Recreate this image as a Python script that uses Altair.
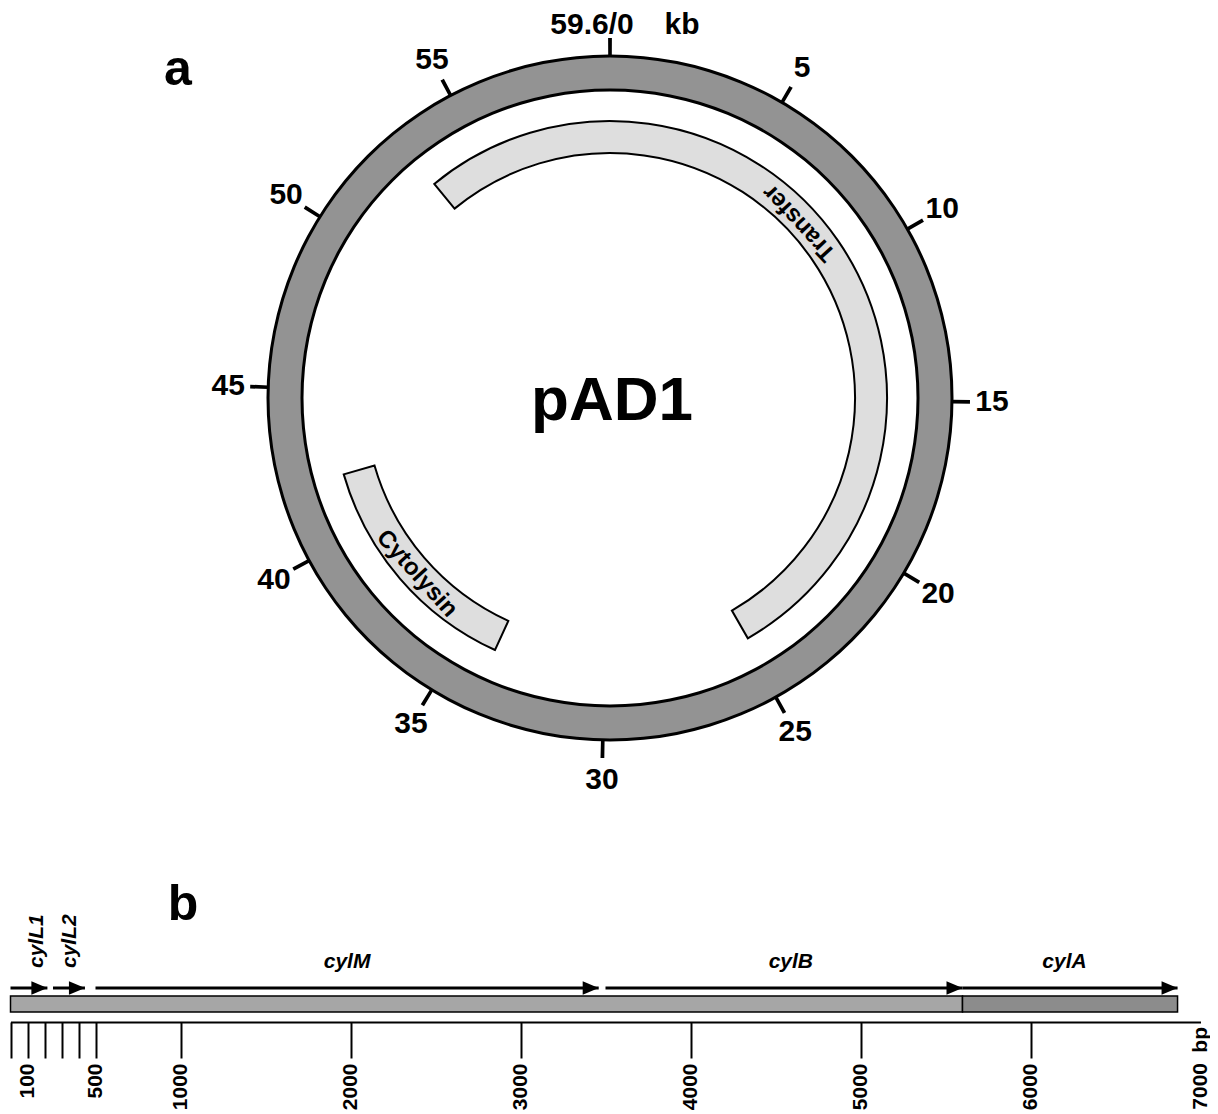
import math
import altair as alt
import pandas as pd

# ---------------- data ----------------
TOTAL_KB = 59.6
tick_kb = [0, 5, 10, 15, 20, 25, 30, 35, 40, 45, 50, 55]
tick_text = ["", "5", "10", "15", "20", "25", "30", "35", "40", "45", "50", "55"]
top_label = "59.6/0"
unit_label = "kb"

region_names = ["Transfer", "Cytolysin"]
region_start_kb = [53.08, 33.86]
region_end_kb = [24.86, 42.05]
region_label_kb = [7.82, 37.7]

plasmid_name = "pAD1"

genes = ["cylL1", "cylL2", "cylM", "cylB", "cylA"]
gene_start_bp = [0, 250, 500, 3500, 5600]
gene_end_bp = [217, 438, 3460, 5600, 6865]
gene_label_bp = [156, 350, 1980, 4590, 6200]

segment_names = ["hatched", "stippled"]
segment_start_bp = [0, 5600]
segment_end_bp = [5600, 6865]

axis_tick_bp = [0, 100, 200, 300, 400, 500, 1000, 2000, 3000, 4000, 5000, 6000]
axis_label_bp = [100, 500, 1000, 2000, 3000, 4000, 5000, 6000]
axis_end_bp = 7000
axis_unit = "bp"

# ---------------- layout / style ----------------
W, H = 1202, 1014
CX, CY = 602, 390
FONT = "Liberation Sans"
RING_FILL = "#939393"
REGION_FILL = "#dedede"

theta_scale = alt.Scale(domain=[0, TOTAL_KB], range=[0, 2 * math.pi])
x_scale = alt.Scale(domain=[0, axis_end_bp], range=[2.5, 1192.5])

label_list = ",".join(str(v) for v in axis_label_bp)
x_axis = alt.Axis(
    values=axis_tick_bp, format="d",
    labelExpr=f"indexof([{label_list}], datum.value) >= 0 ? datum.label : ''",
    labelAngle=270, labelFont=FONT, labelFontSize=21, labelFontWeight="bold",
    labelColor="black", labelPadding=5, labelFlush=False, labelOverlap=False,
    tickSize=36, tickWidth=2, tickColor="black", domainColor="black", domainWidth=2,
    grid=False, title="", orient="bottom")


def th(field):
    return alt.Theta(field, type="quantitative", scale=theta_scale, stack=None)


def xq(field):
    return alt.X(field, type="quantitative", scale=x_scale, axis=x_axis)


center = dict(x=alt.value(CX), y=alt.value(CY))

ring_df = pd.DataFrame({"start": [0.0], "end": [TOTAL_KB]})
ticks_df = pd.DataFrame({"kb": tick_kb, "label": tick_text})
regions_df = pd.DataFrame({"name": region_names, "start": region_start_kb,
                           "end": region_end_kb, "label_kb": region_label_kb})
genes_df = pd.DataFrame({"gene": genes, "start": gene_start_bp,
                         "end": gene_end_bp, "label_bp": gene_label_bp})
seg_df = pd.DataFrame({"segment": segment_names, "start": segment_start_bp,
                       "end": segment_end_bp})
end_df = pd.DataFrame({"bp": [axis_end_bp], "label": [str(axis_end_bp)], "unit": [axis_unit]})

# ---------------- panel a: plasmid ----------------
ring = alt.Chart(ring_df).mark_arc(radius=342, radius2=308, fill=RING_FILL).encode(
    theta=th("start"), theta2="end", **center)
ring_out = alt.Chart(ring_df).mark_arc(radius=343.5, radius2=340.5, fill="black").encode(
    theta=th("start"), theta2="end", **center)
ring_in = alt.Chart(ring_df).mark_arc(radius=309.5, radius2=306.5, fill="black").encode(
    theta=th("start"), theta2="end", **center)

ticks = alt.Chart(ticks_df).transform_calculate(
    a="datum.kb - 0.05", b="datum.kb + 0.05"
).mark_arc(radius=360, radius2=342, fill="black").encode(
    theta=th("a"), theta2="b", **center)

tick_labels = alt.Chart(ticks_df).transform_filter("datum.kb > 0").mark_text(
    radius=382, font=FONT, fontSize=30, fontWeight="bold", color="black",
    align="center", baseline="middle"
).encode(theta=th("kb"), text="label:N", **center)

top_df = pd.DataFrame({"kb": [0.0], "label": [top_label], "unit": [unit_label]})
top_text = alt.Chart(top_df).mark_text(
    radius=381, dx=-18, dy=8, font=FONT, fontSize=30, fontWeight="bold", color="black",
    align="center", baseline="middle"
).encode(theta=th("kb"), text="label:N", **center)
unit_text = alt.Chart(top_df).mark_text(
    radius=381, dx=72, dy=8, font=FONT, fontSize=30, fontWeight="bold", color="black",
    align="center", baseline="middle"
).encode(theta=th("kb"), text="unit:N", **center)

regions = alt.Chart(regions_df).transform_calculate(
    e=f"datum.end < datum.start ? datum.end + {TOTAL_KB} : datum.end"
).mark_arc(radius=277, radius2=245, fill=REGION_FILL, stroke="black", strokeWidth=2).encode(
    theta=th("start"), theta2="e", **center)

transfer_text = alt.Chart(regions_df).transform_filter("datum.name == 'Transfer'").mark_text(
    radius=258, angle=227, font=FONT, fontSize=24, fontWeight="bold", color="black",
    align="center", baseline="middle"
).encode(theta=th("label_kb"), text="name:N", **center)
cyto_text = alt.Chart(regions_df).transform_filter("datum.name == 'Cytolysin'").mark_text(
    radius=261, angle=48, font=FONT, fontSize=24, fontWeight="bold", color="black",
    align="center", baseline="middle"
).encode(theta=th("label_kb"), text="name:N", **center)

name_df = pd.DataFrame({"t": [plasmid_name]})
name_text = alt.Chart(name_df).mark_text(
    font=FONT, fontSize=62, fontWeight="bold", color="black", align="center",
    baseline="alphabetic"
).encode(text="t:N", x=alt.value(604), y=alt.value(412))

panel_df = pd.DataFrame({"t": ["a", "b"]})
panel_a = alt.Chart(panel_df).transform_filter("datum.t == 'a'").mark_text(
    font=FONT, fontSize=50, fontWeight="bold", color="black", align="center",
    baseline="alphabetic").encode(text="t:N", x=alt.value(170), y=alt.value(77))
panel_b = alt.Chart(panel_df).transform_filter("datum.t == 'b'").mark_text(
    font=FONT, fontSize=50, fontWeight="bold", color="black", align="center",
    baseline="alphabetic").encode(text="t:N", x=alt.value(175), y=alt.value(912))

# ---------------- panel b: linear map ----------------
bar = alt.Chart(seg_df).mark_rect(stroke="black", strokeWidth=1.5).encode(
    x=xq("start"), x2="end",
    y=alt.value(988), y2=alt.value(1004),
    color=alt.Color("segment:N", scale=alt.Scale(domain=segment_names,
                                                 range=["#a6a6a6", "#8c8c8c"]), legend=None))

shafts = alt.Chart(genes_df).mark_rule(color="black", strokeWidth=3).encode(
    x=xq("start"), x2="end", y=alt.value(980))

heads = alt.Chart(genes_df).mark_point(
    shape="M-1,-0.85L1,0L-1,0.85Z", size=256, filled=True, color="black",
    opacity=1, xOffset=-8, strokeWidth=0
).encode(x=xq("end"), y=alt.value(980))

gene_text_rot = alt.Chart(genes_df).transform_filter(
    "datum.gene == 'cylL1' || datum.gene == 'cylL2'").mark_text(
    font=FONT, fontSize=21, fontWeight="bold", fontStyle="italic", color="black",
    angle=270, align="left", baseline="middle"
).encode(x=xq("label_bp"), y=alt.value(960), text="gene:N")

gene_text = alt.Chart(genes_df).transform_filter(
    "datum.gene != 'cylL1' && datum.gene != 'cylL2'").mark_text(
    font=FONT, fontSize=21, fontWeight="bold", fontStyle="italic", color="black",
    align="center", baseline="middle"
).encode(x=xq("label_bp"), y=alt.value(954), text="gene:N")

end_label = alt.Chart(end_df).mark_text(
    font=FONT, fontSize=21, fontWeight="bold", color="black", angle=270,
    align="right", baseline="middle"
).encode(x=xq("bp"), y=alt.value(1055), text="label:N")
unit_label_b = alt.Chart(end_df).mark_text(
    font=FONT, fontSize=21, fontWeight="bold", color="black", angle=270,
    align="right", baseline="middle"
).encode(x=xq("bp"), y=alt.value(1019), text="unit:N")

chart = alt.layer(
    ring, ring_out, ring_in, ticks, tick_labels, top_text, unit_text,
    regions, transfer_text, cyto_text, name_text, panel_a, panel_b,
    bar, shafts, heads, gene_text_rot, gene_text, end_label, unit_label_b
).properties(
    width=W, height=H,
    padding={"left": 0, "top": 0, "right": 0, "bottom": 88},
    autosize=alt.AutoSizeParams(type="none"),
    background="white",
).configure_view(strokeWidth=0)

chart.save("out.html", embed_options={"renderer": "svg", "actions": False})
